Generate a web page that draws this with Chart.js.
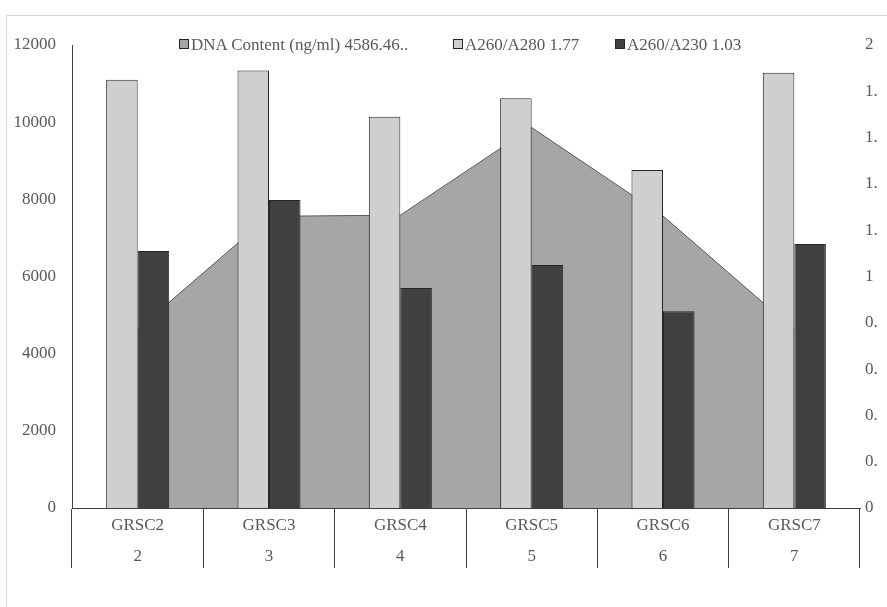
<!DOCTYPE html>
<html>
<head>
<meta charset="utf-8">
<script src="https://cdn.jsdelivr.net/npm/chart.js@4.4.0/dist/chart.umd.min.js"></script>
<style>
  body { margin: 0; overflow: hidden; background: #fff; }
  #frame { position: absolute; left: 6px; top: 15px; width: 1000px; height: 1000px; border: 1px solid #d9d9d9; }
  #chart { position: absolute; left: 0; top: 0; }
  .leg { position: absolute; top: 36px; font: 17px 'Liberation Serif', 'Times New Roman', serif; color: #595959; line-height: 18px; white-space: nowrap; }
  .leg i { display: inline-block; width: 8px; height: 8px; border: 1px solid #262626; margin-right: 2px; vertical-align: 1px; }
</style>
</head>
<body>
<div id="frame"></div>
<canvas id="chart" width="887" height="607"></canvas>
<div id="legend"></div>
<script>
//sample names and their numbers (two-line category labels)
const samples = ["GRSC2", "GRSC3", "GRSC4", "GRSC5", "GRSC6", "GRSC7"];
const sampleNos = ["2", "3", "4", "5", "6", "7"];

//series values
const dnaContent = [4630, 7560, 7590, 9860, 7570, 4620];   //left axis, area
const a260a280 = [1.85, 1.89, 1.69, 1.77, 1.46, 1.88];     //right axis
const a260a230 = [1.11, 1.33, 0.95, 1.05, 0.85, 1.14];     //right axis

const seriesNames = ["DNA Content (ng/ml) 4586.46..", "A260/A280 1.77", "A260/A230 1.03"];
const seriesColors = ["#a6a6a6", "#d0cece", "#404040"];
const legendLeft = [179, 453, 615];

const font = { family: "'Liberation Serif', 'Times New Roman', serif", size: 17 };
const textColor = "#595959";

//build the html legend
let legendHtml = "";
for (let i = 0; i < seriesNames.length; i++) {
	legendHtml += '<div class="leg" style="left:' + legendLeft[i] + 'px"><i style="background:' + seriesColors[i] + '"></i>' + seriesNames[i] + '</div>';
}
document.getElementById("legend").innerHTML = legendHtml;

const myLabels = samples.map((s, i) => [s, sampleNos[i]]);

new Chart(document.getElementById("chart").getContext("2d"), {
	type: "bar",
	data: {
		labels: myLabels,
		datasets: [
			{
				type: "line",
				label: seriesNames[0],
				data: dnaContent,
				yAxisID: "y",
				fill: "origin",
				backgroundColor: seriesColors[0],
				borderColor: "#595959",
				borderWidth: 1,
				pointRadius: 0,
				tension: 0,
				order: 3
			},
			{
				label: seriesNames[1],
				data: a260a280,
				yAxisID: "y1",
				backgroundColor: seriesColors[1],
				borderColor: "#262626",
				borderWidth: 1,
				order: 1
			},
			{
				label: seriesNames[2],
				data: a260a230,
				yAxisID: "y1",
				backgroundColor: seriesColors[2],
				borderColor: "#262626",
				borderWidth: 1,
				order: 1
			}
		]
	},
	options: {
		responsive: false,
		animation: false,
		categoryPercentage: 0.48,
		barPercentage: 1.0,
		layout: { padding: { top: 45, left: 0, right: 0, bottom: 0 } },
		plugins: { legend: { display: false }, tooltip: { enabled: false } },
		scales: {
			x: {
				grid: { offset: true, drawOnChartArea: false, tickLength: 60, color: "#404040" },
				border: { color: "#404040" },
				ticks: { font: { ...font, lineHeight: 1.82 }, color: textColor, padding: -57.5, maxRotation: 0, autoSkip: false },
				afterFit: (s) => { s.height = 99 }
			},
			y: {
				position: "left",
				min: 0, max: 12000,
				grid: { display: false, drawTicks: false },
				border: { color: "#404040" },
				ticks: { stepSize: 2000, font: font, color: textColor, padding: 16, callback: (v) => String(v) },
				afterFit: (s) => { s.width = 72 }
			},
			y1: {
				position: "right",
				min: 0, max: 2,
				grid: { display: false, drawTicks: false },
				border: { display: false },
				//labels are cut off at the chart edge in the original
				ticks: { stepSize: 0.2, font: font, color: textColor, padding: 5, callback: (v) => String(v).slice(0, 2) },
				afterFit: (s) => { s.width = 27 }
			}
		}
	}
});
</script>
</body>
</html>
